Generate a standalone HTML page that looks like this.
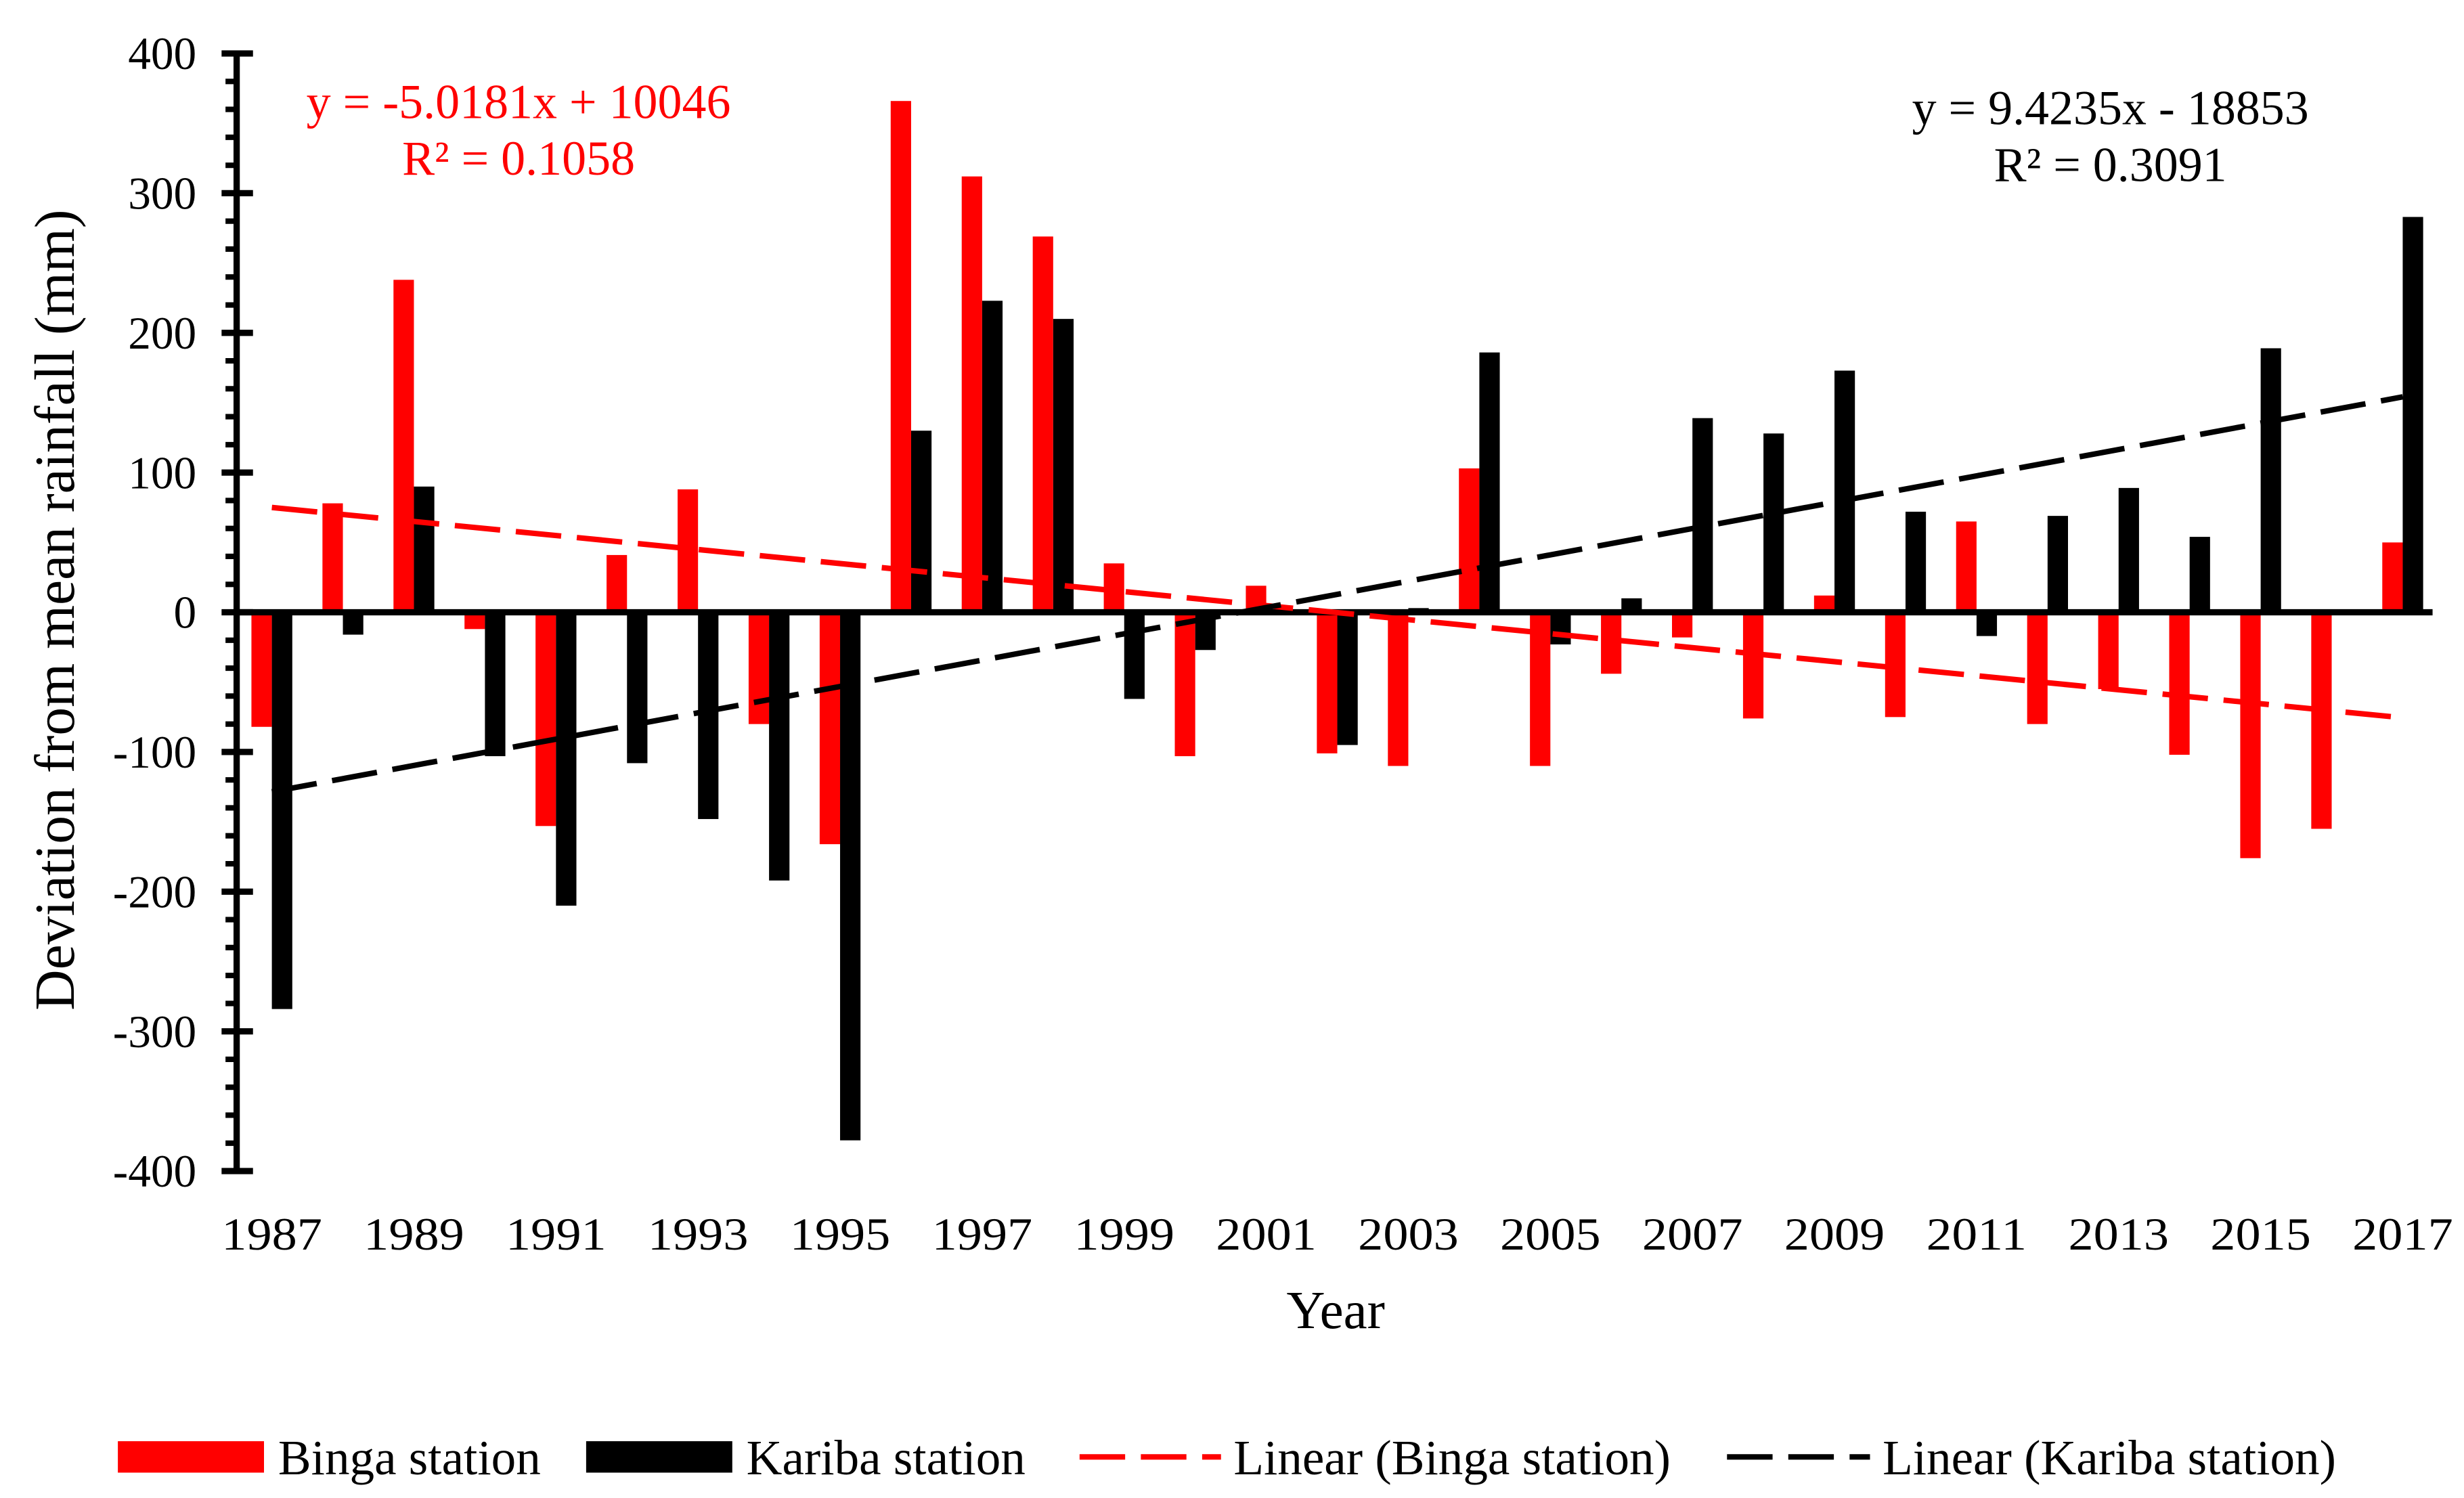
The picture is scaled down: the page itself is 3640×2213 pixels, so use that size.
<!DOCTYPE html>
<html><head><meta charset="utf-8"><style>html,body{margin:0;padding:0;background:#fff}svg{display:block}text{font-family:"Liberation Serif",serif}</style></head>
<body>
<svg id="chart" width="3640" height="2213" viewBox="0 0 1568 953" xmlns="http://www.w3.org/2000/svg">
<rect width="1568" height="953" fill="#fff"/>
<g id="plot"></g>
<text transform="translate(47,388) rotate(-90)" text-anchor="middle" font-size="36">Deviation from mean rainfall (mm)</text>
<text x="850" y="845" text-anchor="middle" font-size="34">Year</text>
<g fill="#ff0000" font-size="31" text-anchor="middle">
<text x="330" y="75">y = -5.0181x + 10046</text><text x="330" y="111">R² = 0.1058</text></g>
<g fill="#000" font-size="31" text-anchor="middle">
<text x="1343" y="79">y = 9.4235x - 18853</text><text x="1343" y="115">R² = 0.3091</text></g>
<g font-size="31.5">
<g><rect x="75" y="917" width="93" height="20" fill="#ff0000"/><text x="177" y="938">Binga station</text></g>
<g><rect x="373" y="917" width="93" height="20" fill="#000"/><text x="475" y="938">Kariba station</text></g>
<g><line x1="687" y1="927" x2="777" y2="927" stroke="#ff0000" stroke-width="3.5" stroke-dasharray="29 10"/><text x="785" y="938">Linear (Binga station)</text></g>
<g><line x1="1099" y1="927" x2="1190" y2="927" stroke="#000" stroke-width="3.5" stroke-dasharray="29 10"/><text x="1198" y="938">Linear (Kariba station)</text></g>
</g>
</svg>
<script>
const years = [1987,1988,1989,1990,1991,1992,1993,1994,1995,1996,1997,1998,1999,2000,2001,2002,2003,2004,2005,2006,2007,2008,2009,2010,2011,2012,2013,2014,2015,2016,2017];
const binga = [-82,78,238,-12,-153,41,88,-80,-166,366,312,269,35,-103,19,-101,-110,103,-110,-44,-18,-76,12,-75,65,-80,-55,-102,-176,-155,50];
const kariba = [-284,-16,90,-103,-210,-108,-148,-192,-378,130,223,210,-62,-27,-2,-95,3,186,-23,10,139,128,173,72,-17,69,89,54,189,0,283];
const trendSlopes = [-5.0181, 9.4235];
const trendIntercepts = [10046, -18853];
const yTicks = [400,300,200,100,0,-100,-200,-300,-400];
const xTickLabels = [1987,1989,1991,1993,1995,1997,1999,2001,2003,2005,2007,2009,2011,2013,2015,2017];

const NS='http://www.w3.org/2000/svg';
const g=document.getElementById('plot');
const X=yr=>173+(yr-1987)*45.2;
const Y=v=>389.5-v*0.889;
const BW=13;
function mk(t,a){const e=document.createElementNS(NS,t);for(const k in a)e.setAttribute(k,a[k]);g.appendChild(e);return e;}
years.forEach((yr,i)=>{
  let v=binga[i];
  let r=mk('rect',{x:X(yr)-BW,y:Math.min(Y(0),Y(v)),width:BW,height:Math.abs(Y(v)-Y(0)),fill:'#ff0000'});
  
  
  v=kariba[i];
  r=mk('rect',{x:X(yr),y:Math.min(Y(0),Y(v)),width:BW,height:Math.abs(Y(v)-Y(0)),fill:'#000'});
  
  
});
let ax=mk('line',{x1:150.6,y1:Y(400),x2:150.6,y2:Y(-400),stroke:'#000','stroke-width':4});


for(let v=-400;v<=400;v+=20){
  const major=v%100===0;
  const t=mk('line',{x1:major?141:143.5,y1:Y(v),x2:major?161:150.6,y2:Y(v),stroke:'#000','stroke-width':major?4:3.5});
  
  
}
yTicks.forEach(v=>{
  const t=mk('text',{x:125,y:Y(v)+10,'text-anchor':'end','font-size':29});
  t.textContent=v;
  
  
});
ax=mk('line',{x1:149,y1:Y(0),x2:1548,y2:Y(0),stroke:'#000','stroke-width':4});


xTickLabels.forEach(yr=>{
  const t=mk('text',{x:X(yr),y:795,'text-anchor':'middle','font-size':29,textLength:64,lengthAdjust:'spacingAndGlyphs'});
  t.textContent=yr;
  
  
});
const cols=['#ff0000','#000'];
const names=['binga-trendline','kariba-trendline'];
trendSlopes.forEach((m,i)=>{
  const b=trendIntercepts[i];
  const y0=years[0], y1=years[years.length-1];
  const l=mk('line',{x1:X(y0),y1:Y(m*y0+b),x2:X(y1),y2:Y(m*y1+b),stroke:cols[i],'stroke-width':3.5,'stroke-dasharray':'29 10'});
  
  
});
</script>
</body></html>
